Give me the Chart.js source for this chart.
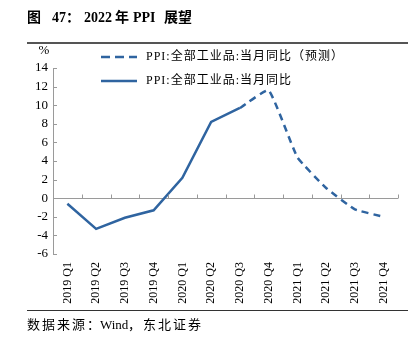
<!DOCTYPE html>
<html>
<head>
<meta charset="utf-8">
<script src="https://cdn.jsdelivr.net/npm/chart.js@4.4.0/dist/chart.umd.min.js"></script>
<style>
  html, body { margin: 0; padding: 0; background: #fff; }
  #ppi-chart { display: block; }
</style>
</head>
<body>
<canvas id="ppi-chart" width="414" height="346"></canvas>
<script>
const quarters = ['2019 Q1', '2019 Q2', '2019 Q3', '2019 Q4', '2020 Q1', '2020 Q2',
                  '2020 Q3', '2020 Q4', '2021 Q1', '2021 Q2', '2021 Q3', '2021 Q4'];
const ppiActual = [-0.6, -3.3, -2.1, -1.3, 2.2, 8.2, 9.7, null, null, null, null, null];
const ppiForecast = [null, null, null, null, null, null, 9.7, 11.6, 4.4, 1.1, -1.2, -2.0];
const yTicks = [-6, -4, -2, 0, 2, 4, 6, 8, 10, 12, 14];

const blue = '#2f64a0';
const axisGray = '#9a9a9a';
const serif = "'Liberation Serif', 'Times New Roman', serif";
const cjk = "'Liberation Serif', 'Noto Sans CJK SC', sans-serif";

// title, rules, source, legend and the small tick marks
const decor = {
    id: 'decor',
    afterDraw(chart) {
        const ctx = chart.ctx;
        const area = chart.chartArea;
        const x = chart.scales.x;
        const y = chart.scales.y;
        ctx.save();

        ctx.fillStyle = '#000';
        ctx.textBaseline = 'middle';
        ctx.font = "bold 14px " + cjk;
        [['图', 27], ['47：', 52], ['2022', 84], ['年', 115], ['PPI', 133], ['展望', 164]]
            .forEach(([t, px]) => ctx.fillText(t, px, 18));

        ctx.fillStyle = '#555';
        ctx.fillRect(27, 42, 381, 2);
        ctx.fillStyle = '#333';
        ctx.fillRect(27, 310, 381, 1);

        ctx.fillStyle = '#000';
        ctx.font = "13px " + cjk;
        ctx.letterSpacing = '2px';
        ctx.fillText('数据来源：', 27, 326);
        ctx.fillText('，东北证券', 128, 326);
        ctx.letterSpacing = '0px';
        ctx.fillText('Wind', 100, 326);

        ctx.font = "13px " + serif;
        ctx.textAlign = 'center';
        ctx.fillText('%', 44, 51);
        ctx.textAlign = 'left';

        // legend
        const rows = [
            { text: 'PPI:全部工业品:当月同比（预测）', dash: [9, 5], y: 57 },
            { text: 'PPI:全部工业品:当月同比', dash: [], y: 81 }
        ];
        ctx.font = "12px " + cjk;
        ctx.letterSpacing = '1px';
        rows.forEach(r => {
            ctx.strokeStyle = blue;
            ctx.lineWidth = 2.5;
            ctx.setLineDash(r.dash);
            ctx.beginPath();
            ctx.moveTo(101, r.y);
            ctx.lineTo(137, r.y);
            ctx.stroke();
            ctx.fillStyle = '#000';
            ctx.fillText(r.text, 146, r.y);
        });
        ctx.letterSpacing = '0px';
        ctx.setLineDash([]);

        // tick marks pointing up from the zero line, at category boundaries
        const y0 = Math.round(y.getPixelForValue(0)) + 0.5;
        ctx.strokeStyle = axisGray;
        ctx.lineWidth = 1;
        ctx.beginPath();
        for (let i = 0; i <= quarters.length; i++) {
            const px = Math.round(x.getPixelForValue(i - 0.5)) + 0.5;
            ctx.moveTo(px, y0);
            ctx.lineTo(px, y0 - 4);
        }
        // inward ticks on the y axis
        yTicks.forEach(v => {
            const py = Math.round(y.getPixelForValue(v)) + 0.5;
            ctx.moveTo(area.left, py);
            ctx.lineTo(area.left + 4, py);
        });
        ctx.stroke();
        ctx.restore();
    }
};

new Chart(document.getElementById('ppi-chart'), {
    type: 'line',
    data: {
        labels: quarters,
        datasets: [{
            label: 'PPI:全部工业品:当月同比（预测）',
            data: ppiForecast,
            borderColor: blue,
            borderWidth: 2.5,
            borderDash: [7, 5],
            pointRadius: 0,
            tension: 0.12,
            fill: false
        }, {
            label: 'PPI:全部工业品:当月同比',
            data: ppiActual,
            borderColor: blue,
            borderWidth: 2.5,
            pointRadius: 0,
            tension: 0,
            fill: false
        }]
    },
    options: {
        responsive: false,
        animation: false,
        devicePixelRatio: 1,
        layout: {
            padding: { left: 0, right: 16, top: 68, bottom: 0 }
        },
        scales: {
            x: {
                offset: true,
                grid: { display: false, drawTicks: false },
                border: { display: false },
                ticks: {
                    autoSkip: false,
                    minRotation: 90,
                    maxRotation: 90,
                    padding: 8,
                    color: '#000',
                    font: { family: serif, size: 12 }
                },
                afterFit(scale) { scale.height = 92; }
            },
            y: {
                min: -6,
                max: 14,
                ticks: {
                    stepSize: 2,
                    padding: 5,
                    color: '#000',
                    font: { family: serif, size: 13 }
                },
                grid: {
                    drawTicks: false,
                    color: ctx => ctx.tick && ctx.tick.value === 0 ? axisGray : 'rgba(0,0,0,0)'
                },
                border: { display: true, color: axisGray },
                afterFit(scale) { scale.width = 53; }
            }
        },
        plugins: {
            legend: { display: false },
            tooltip: { enabled: false }
        }
    },
    plugins: [decor]
});
</script>
</body>
</html>
